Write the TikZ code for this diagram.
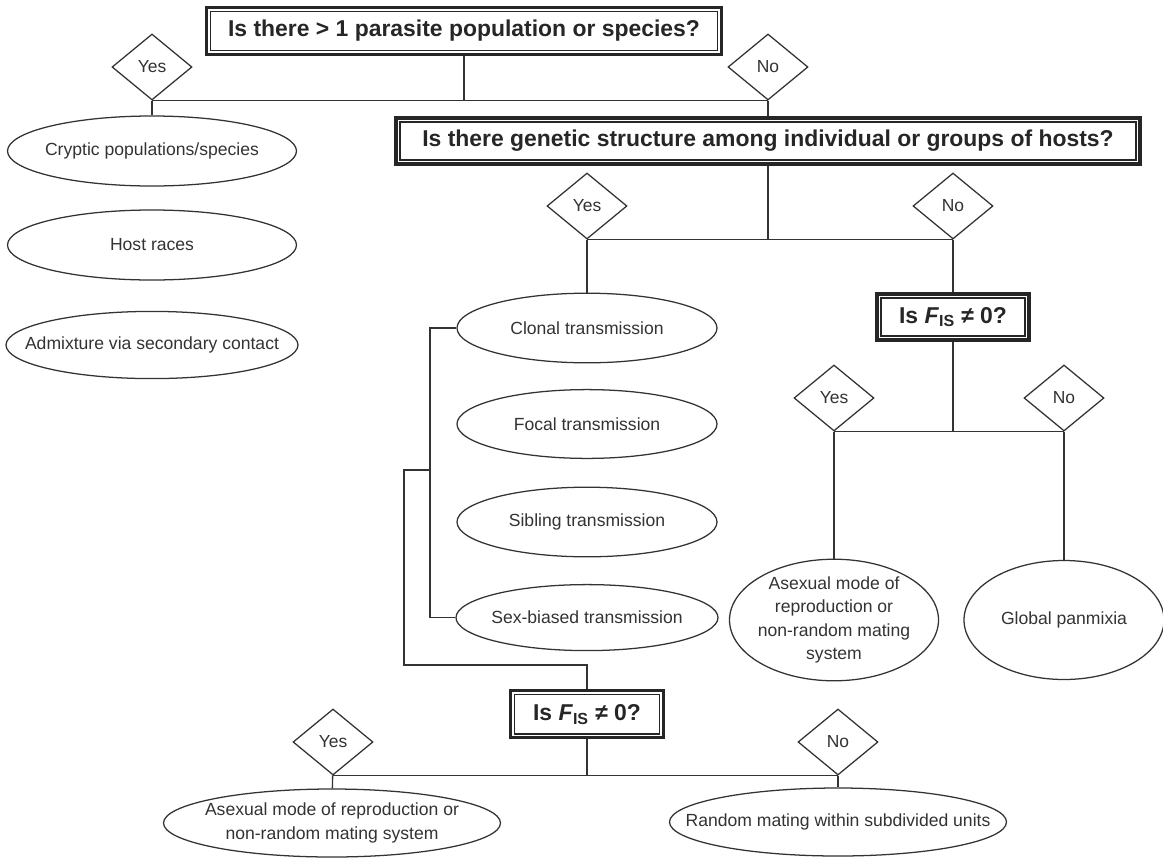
\documentclass[tikz,border=0pt]{standalone}
\usepackage{fontspec}
\setmainfont{Liberation Sans}
\usetikzlibrary{shapes.geometric}
\tikzset{
  wire/.style={draw=black!80,line width=1pt},
  question/.style={draw=black!85,line width=2.2pt,fill=white,inner sep=0pt,
    font=\fontsize{16.3}{19}\selectfont\bfseries,text=black!85,
    path picture={\draw[black!85,line width=0.9pt]
      ([shift={(2.8pt,-2.8pt)}]path picture bounding box.north west) rectangle
      ([shift={(-2.8pt,2.8pt)}]path picture bounding box.south east);}},
  answer/.style={diamond,draw=black!80,line width=0.9pt,fill=white,inner sep=0pt,
    minimum width=2cm,minimum height=1.65cm,
    font=\fontsize{12.4}{15}\selectfont,text=black!80},
  outcome/.style={ellipse,draw=black!80,line width=0.9pt,fill=white,
    inner sep=0pt,inner xsep=-1cm,align=center,
    font=\fontsize{12.5}{16.5}\selectfont,text=black!80}
}
\begin{document}
\begin{tikzpicture}
  \useasboundingbox (0,0) rectangle (29.075,-21.675);
  % first question
  \node (Q1) at (11.6,-0.775) [question,minimum width=12.875cm,minimum height=1.175cm]
        {Is there > 1 parasite population or species?};
  \node (Y1) at (3.8,-1.675) [answer] {Yes};
  \node (N1) at (19.2,-1.675) [answer] {No};
  \node (Cry) at (3.8,-3.775) [outcome,minimum width=7.225cm,minimum height=1.75cm]
        {Cryptic populations/species};
  \node (Host) at (3.8,-6.125) [outcome,minimum width=7.225cm,minimum height=1.75cm]
        {Host races};
  \node (Adm) at (3.8,-8.625) [outcome,minimum width=7.3cm,minimum height=1.68cm]
        {Admixture via secondary contact};
  % second question
  \node (Q2) at (19.2,-3.525) [question,minimum width=18.6cm,minimum height=1.15cm]
        {Is there genetic structure among individual or groups of hosts?};
  \node (Y2) at (14.675,-5.15) [answer] {Yes};
  \node (N2) at (23.825,-5.15) [answer] {No};
  \node (Clo) at (14.675,-8.2) [outcome,minimum width=6.5cm,minimum height=1.74cm]
        {Clonal transmission};
  \node (Foc) at (14.675,-10.6) [outcome,minimum width=6.5cm,minimum height=1.72cm]
        {Focal transmission};
  \node (Sib) at (14.675,-13.05) [outcome,minimum width=6.5cm,minimum height=1.74cm]
        {Sibling transmission};
  \node (Sex) at (14.675,-15.44) [outcome,minimum width=6.55cm,minimum height=1.65cm]
        {Sex-biased transmission};
  \coordinate (brk) at (10.75,-11.75);
  \coordinate (bend) at (10.1,-16.625);
  % F_IS below the structured branch
  \node (Q3) at (14.675,-17.86) [question,minimum width=3.825cm,minimum height=1.175cm]
        {Is \textit{F}\textsubscript{IS} ≠ 0?};
  \node (Y3) at (8.325,-18.55) [answer] {Yes};
  \node (N3) at (20.95,-18.55) [answer] {No};
  \node (AsexL) at (8.3,-20.575) [outcome,minimum width=8.425cm,minimum height=1.7cm]
        {Asexual mode of reproduction or\\non-random mating system};
  \node (Rand) at (20.95,-20.55) [outcome,minimum width=8.425cm,minimum height=1.7cm]
        {Random mating within subdivided units};
  % F_IS on the unstructured branch
  \node (Q4) at (23.825,-7.925) [question,minimum width=3.8cm,minimum height=1.15cm]
        {Is \textit{F}\textsubscript{IS} ≠ 0?};
  \node (Y4) at (20.85,-9.95) [answer] {Yes};
  \node (N4) at (26.6,-9.95) [answer] {No};
  \node (AsexR) at (20.85,-15.5) [outcome,minimum width=5.225cm,minimum height=2.975cm]
        {Asexual mode of\\reproduction or\\non-random mating\\system};
  \node (Pan) at (26.6,-15.5) [outcome,minimum width=5.0cm,minimum height=2.975cm]
        {Global panmixia};

  \draw (Y1.south) -- (N1.south) [wire];
  \draw (Q1) -- (Q1 |- Y1.south) [wire];
  \draw (Y1) -- (Cry) [wire]; \draw (N1) -- (Q2) [wire];
  \draw (Y2.south) -- (N2.south) [wire];
  \draw (Q2) -- (Q2 |- Y2.south) [wire];
  \draw (Y2) -- (Clo) [wire]; \draw (N2) -- (Q4) [wire];
  \draw (Clo.west) -| (brk) |- (Sex.west) [wire];
  \draw (brk) -| (bend) -| (Q3.north) [wire];
  \draw (Y3.south) -- (N3.south) [wire];
  \draw (Q3) -- (Q3 |- Y3.south) [wire];
  \draw (Y3) -- (AsexL) [wire]; \draw (N3) -- (Rand) [wire];
  \draw (Y4.south) -- (N4.south) [wire];
  \draw (Q4) -- (Q4 |- Y4.south) [wire];
  \draw (Y4) -- (AsexR) [wire]; \draw (N4) -- (Pan) [wire];
\end{tikzpicture}
\end{document}
